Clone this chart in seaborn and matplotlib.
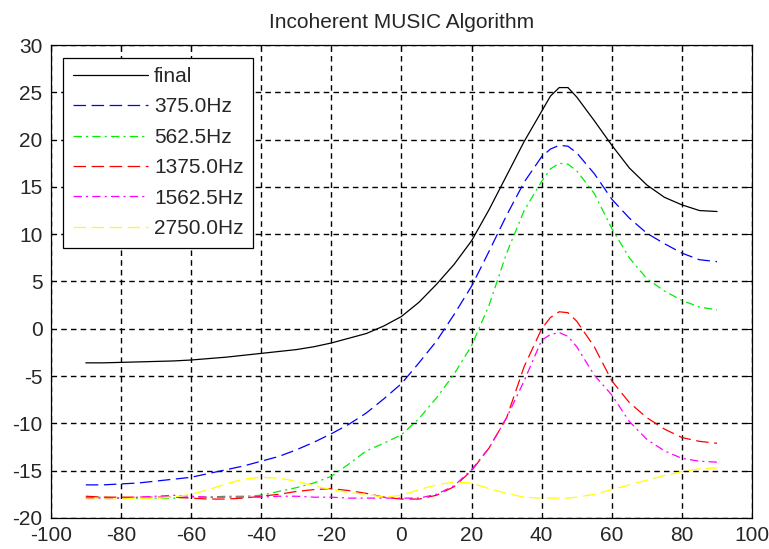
import pandas as pd
import seaborn as sns
import matplotlib.pyplot as plt

# Angle grid (degrees)
angles = [-90, -85, -80, -75, -70, -65, -60, -55, -50, -45, -40, -35, -30, -25, -20, -15, -10, -5,
          0, 5, 10, 15, 20, 25, 30, 35, 40, 42.5, 45, 47.5, 50, 55, 60, 65, 70, 75, 80, 85, 90]

# Pseudo-spectra (dB)
final = [-3.6, -3.6, -3.55, -3.5, -3.45, -3.4, -3.3, -3.15, -3.0, -2.8, -2.6, -2.4, -2.2, -1.9, -1.5, -1.0, -0.5, 0.3,
         1.3, 2.8, 4.7, 6.8, 9.3, 12.6, 16.2, 19.8, 23.0, 24.6, 25.5, 25.5, 24.5, 22.0, 19.4, 17.0, 15.2, 13.9, 13.1, 12.5, 12.4]
f375 = [-16.5, -16.5, -16.4, -16.3, -16.1, -15.9, -15.7, -15.3, -14.9, -14.5, -14.0, -13.5, -12.8, -12.0, -11.1, -10.1, -8.9, -7.4,
        -5.8, -3.6, -1.3, 1.5, 4.5, 8.2, 12.0, 15.5, 18.2, 19.0, 19.4, 19.3, 18.6, 16.4, 13.7, 11.7, 10.1, 9.0, 8.0, 7.3, 7.1]
f562 = [-17.8, -17.8, -17.9, -17.9, -17.9, -17.9, -17.8, -17.8, -17.7, -17.7, -17.6, -17.2, -16.8, -16.3, -15.6, -14.3, -12.9, -12.1,
        -11.2, -9.5, -7.3, -4.8, -1.8, 2.5, 8.0, 12.5, 15.6, 16.9, 17.5, 17.4, 16.7, 14.3, 10.6, 7.5, 5.3, 4.0, 3.0, 2.3, 2.0]
f1375 = [-17.7, -17.8, -17.8, -17.8, -17.8, -17.8, -17.9, -18.0, -18.0, -17.9, -17.7, -17.5, -17.2, -17.0, -16.9, -17.1, -17.4, -17.8,
         -18.0, -18.0, -17.6, -16.7, -15.0, -12.6, -9.4, -4.0, 0.0, 1.2, 1.8, 1.7, 0.8, -1.9, -5.5, -7.8, -9.4, -10.6, -11.5, -11.9, -12.1]
f1562 = [-17.9, -17.9, -17.9, -17.8, -17.7, -17.6, -17.7, -17.8, -17.8, -17.8, -17.8, -17.7, -17.7, -17.8, -17.8, -17.9, -17.9, -17.9,
         -17.9, -17.9, -17.5, -16.6, -14.9, -12.6, -9.4, -5.5, -1.2, -0.6, -0.4, -0.8, -1.9, -4.9, -7.0, -9.8, -11.7, -12.9, -13.7, -14.0, -14.1]
f2750 = [-18.0, -18.0, -18.0, -17.9, -17.9, -17.8, -17.5, -17.0, -16.4, -15.9, -15.7, -15.8, -16.1, -16.6, -17.0, -17.3, -17.5, -17.8,
         -17.6, -17.0, -16.5, -16.2, -16.3, -16.9, -17.4, -17.8, -17.9, -17.9, -17.9, -17.9, -17.8, -17.5, -17.0, -16.5, -16.0, -15.5, -15.1, -14.8, -14.7]

labels = ["final", "375.0Hz", "562.5Hz", "1375.0Hz", "1562.5Hz", "2750.0Hz"]
series = [final, f375, f562, f1375, f1562, f2750]
colors = ["#000000", "#0000ff", "#00ee00", "#ff0000", "#ff00ff", "#ffff00"]

dash = (9, 4)
dashdot = (6, 3, 1.5, 3)
styles = ["", dash, dashdot, dash, dashdot, dash]

# Long-form table for seaborn
df = pd.concat(
    [pd.DataFrame({"angle": angles, "value": vals, "freq": lab}) for lab, vals in zip(labels, series)],
    ignore_index=True,
)

sns.set_style("white")
plt.rcParams["font.family"] = ["Liberation Sans", "DejaVu Sans"]
plt.rcParams["axes.unicode_minus"] = False
plt.rcParams["lines.scale_dashes"] = False

fig = plt.figure(figsize=(7.69, 5.49), dpi=100)
ax = fig.add_axes([0.066, 0.0565, 0.912, 0.8615])

sns.lineplot(data=df, x="angle", y="value", hue="freq", style="freq",
             palette=dict(zip(labels, colors)), dashes=dict(zip(labels, styles)),
             linewidth=0.9, ax=ax, sort=False, legend=True)

ax.set_xlim(-100, 100)
ax.set_ylim(-20, 30)
ax.set_xticks(range(-100, 101, 20))
ax.set_yticks(range(-20, 31, 5))
ax.set_xlabel("")
ax.set_ylabel("")
ax.set_title("Incoherent MUSIC Algorithm", fontsize=15, pad=12)

ax.grid(True, color="black", linestyle=(0, (4, 3)), linewidth=1.0)
ax.tick_params(direction="in", length=4, width=0.8, labelsize=15, top=True, right=True,
               color="black", pad=6)
for s in ax.spines.values():
    s.set_color("black")
    s.set_linewidth(0.9)

handles, labs = ax.get_legend_handles_labels()
leg = ax.legend(handles, labs, loc="upper left", fontsize=15, frameon=True, fancybox=False,
                edgecolor="black", framealpha=1, handlelength=3.6, handletextpad=0.3,
                labelspacing=0.55, borderpad=0.45, borderaxespad=0.6)
leg.get_frame().set_linewidth(0.9)

fig.savefig("out.png", dpi=100)
